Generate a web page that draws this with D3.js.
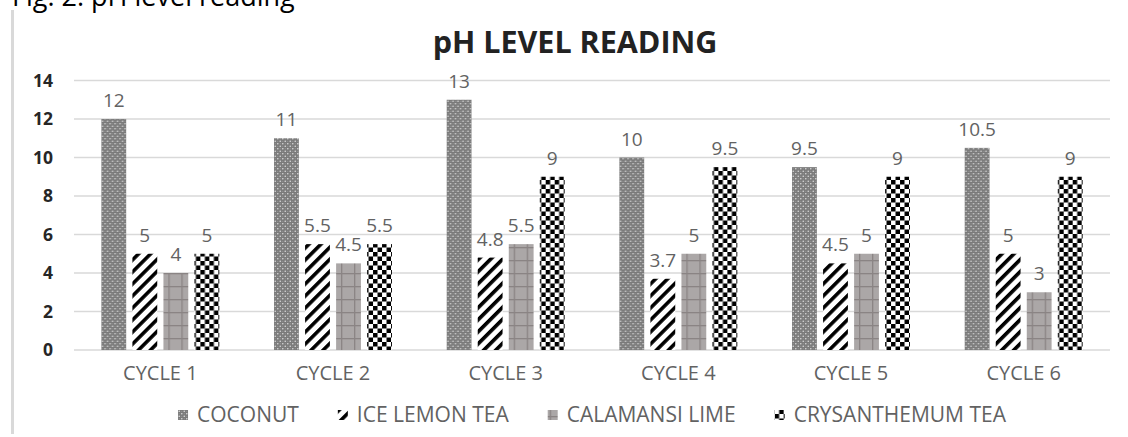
<!DOCTYPE html>
<html>
<head>
<meta charset="utf-8">
<script src="https://cdn.jsdelivr.net/npm/d3@7"></script>
<style>
  html, body { margin: 0; padding: 0; background: #fff; }
  svg { display: block; }
  text { font-family: "Open Sans", sans-serif; }
</style>
</head>
<body>
<svg id="chart" width="1128" height="437"></svg>
<script>
const categories = ["CYCLE 1", "CYCLE 2", "CYCLE 3", "CYCLE 4", "CYCLE 5", "CYCLE 6"];
const seriesNames = ["COCONUT", "ICE LEMON TEA", "CALAMANSI LIME", "CRYSANTHEMUM TEA"];
const coconut = [12, 11, 13, 10, 9.5, 10.5];
const iceLemonTea = [5, 5.5, 4.8, 3.7, 4.5, 5];
const calamansiLime = [4, 4.5, 5.5, 5, 5, 3];
const crysanthemumTea = [5, 5.5, 9, 9.5, 9, 9];
const yTicks = [0, 2, 4, 6, 8, 10, 12, 14];
const captionText = "Fig. 2. pH level reading";
const titleText = "pH LEVEL READING";

const seriesValues = [coconut, iceLemonTea, calamansiLime, crysanthemumTea];
const patternIds = ["p-coconut", "p-ice", "p-calamansi", "p-chrys"];

const svg = d3.select("#chart");
const defs = svg.append("defs");

// Coconut: gray dotted texture
const pc = defs.append("pattern").attr("id", "p-coconut")
  .attr("patternUnits", "userSpaceOnUse").attr("width", 5).attr("height", 5);
pc.append("rect").attr("width", 5).attr("height", 5).attr("fill", "#7a7a7a");
pc.append("circle").attr("cx", 1.25).attr("cy", 1.25).attr("r", 0.8).attr("fill", "#dcdcdc");
pc.append("circle").attr("cx", 3.75).attr("cy", 3.75).attr("r", 0.8).attr("fill", "#dcdcdc");
pc.append("circle").attr("cx", 3.75).attr("cy", 1.25).attr("r", 0.5).attr("fill", "#a0a0a0");
pc.append("circle").attr("cx", 1.25).attr("cy", 3.75).attr("r", 0.5).attr("fill", "#a0a0a0");

// Ice lemon tea: black wide diagonal stripes on white
const pi = defs.append("pattern").attr("id", "p-ice")
  .attr("patternUnits", "userSpaceOnUse").attr("width", 8.5).attr("height", 8.5)
  .attr("patternTransform", "rotate(45)");
pi.append("rect").attr("width", 8.5).attr("height", 8.5).attr("fill", "#fff");
pi.append("rect").attr("width", 3.6).attr("height", 8.5).attr("fill", "#000");

// Calamansi lime: gray with darker grid lines
const pl = defs.append("pattern").attr("id", "p-calamansi")
  .attr("patternUnits", "userSpaceOnUse").attr("width", 13).attr("height", 13)
  .attr("x", 2).attr("y", 0);
pl.append("rect").attr("width", 13).attr("height", 13).attr("fill", "#aba7a7");
pl.append("rect").attr("x", 0).attr("y", 0).attr("width", 13).attr("height", 1.3).attr("fill", "#8a8484");
pl.append("rect").attr("x", 0).attr("y", 0).attr("width", 1.3).attr("height", 13).attr("fill", "#8a8484");

// Crysanthemum: black/white checkerboard
const pk = defs.append("pattern").attr("id", "p-chrys")
  .attr("patternUnits", "userSpaceOnUse").attr("width", 9).attr("height", 9);
pk.append("rect").attr("width", 9).attr("height", 9).attr("fill", "#fff");
pk.append("rect").attr("width", 4.5).attr("height", 4.5).attr("fill", "#000");
pk.append("rect").attr("x", 4.5).attr("y", 4.5).attr("width", 4.5).attr("height", 4.5).attr("fill", "#000");

// Caption (cut at top, as in the reference)
svg.append("text").attr("x", 12).attr("y", 6)
  .attr("font-size", 27).attr("fill", "#000").text(captionText);

// Left border of chart area
svg.append("line").attr("x1", 12.5).attr("x2", 12.5).attr("y1", 10).attr("y2", 434)
  .attr("stroke", "#d9d9d9").attr("stroke-width", 3);

const margin = { left: 74, right: 1110, top: 80.5, bottom: 350 };

const x0 = d3.scaleBand().domain(categories)
  .range([margin.left, margin.right])
  .paddingInner(0.317).paddingOuter(0.1585);
const x1 = d3.scaleBand().domain(seriesNames)
  .range([0, x0.bandwidth()]).paddingInner(0.2).paddingOuter(0);
const y = d3.scaleLinear().domain([0, 14]).range([margin.bottom, margin.top]);

// Title
svg.append("text").attr("x", 575).attr("y", 53).attr("text-anchor", "middle")
  .attr("font-size", 30.5).attr("font-weight", 700).attr("fill", "#222")
  .text(titleText);

// Gridlines
svg.append("g").selectAll("line").data(yTicks).join("line")
  .attr("x1", margin.left).attr("x2", margin.right)
  .attr("y1", d => y(d)).attr("y2", d => y(d))
  .attr("stroke", "#d9d9d9").attr("stroke-width", 1.5);

// Y axis labels
const yAxis = d3.axisLeft(y).tickValues(yTicks).tickSize(0).tickPadding(0);
const gy = svg.append("g").attr("transform", "translate(53,0)").call(yAxis);
gy.select(".domain").remove();
gy.selectAll("text").attr("font-family", "Open Sans, sans-serif")
  .attr("font-size", 17.5).attr("font-weight", 700).attr("fill", "#262626");

// Bars
const groups = svg.append("g").selectAll("g").data(categories).join("g")
  .attr("transform", d => `translate(${x0(d)},0)`);

groups.each(function(cat, ci) {
  const g = d3.select(this);
  const rows = seriesNames.map((s, si) => ({ s, si, v: seriesValues[si][ci] }));
  g.selectAll("rect").data(rows).join("rect")
    .attr("x", d => x1(d.s))
    .attr("y", d => y(d.v))
    .attr("width", x1.bandwidth())
    .attr("height", d => y(0) - y(d.v))
    .attr("fill", d => `url(#${patternIds[d.si]})`);
  g.selectAll("text").data(rows).join("text")
    .attr("x", d => x1(d.s) + x1.bandwidth() / 2)
    .attr("y", d => y(d.v) - 12)
    .attr("text-anchor", "middle")
    .attr("font-size", 19).attr("fill", "#626262")
    .text(d => String(d.v));
});

// X axis labels
const xAxis = d3.axisBottom(x0).tickSize(0).tickPadding(0);
const gx = svg.append("g").attr("transform", "translate(0,366)").call(xAxis);
gx.select(".domain").remove();
gx.selectAll("text").attr("font-family", "Open Sans, sans-serif")
  .attr("font-size", 20).attr("fill", "#626262").attr("dy", "0.71em");

// Legend
const legend = svg.append("g");
const items = legend.selectAll("g").data(seriesNames).join("g");
items.append("rect").attr("width", 10).attr("height", 10).attr("y", 410)
  .attr("fill", (d, i) => `url(#${patternIds[i]})`);
items.append("text").attr("x", 19).attr("y", 422)
  .attr("font-size", 21).attr("fill", "#626262").text(d => d);
let widths = [];
items.each(function() { widths.push(d3.select(this).select("text").node().getComputedTextLength() + 19); });
const gap = 39;
const total = d3.sum(widths) + gap * (widths.length - 1);
let cx = 592 - total / 2;
items.each(function(d, i) {
  d3.select(this).attr("transform", `translate(${cx},0)`);
  cx += widths[i] + gap;
});
</script>
</body>
</html>
